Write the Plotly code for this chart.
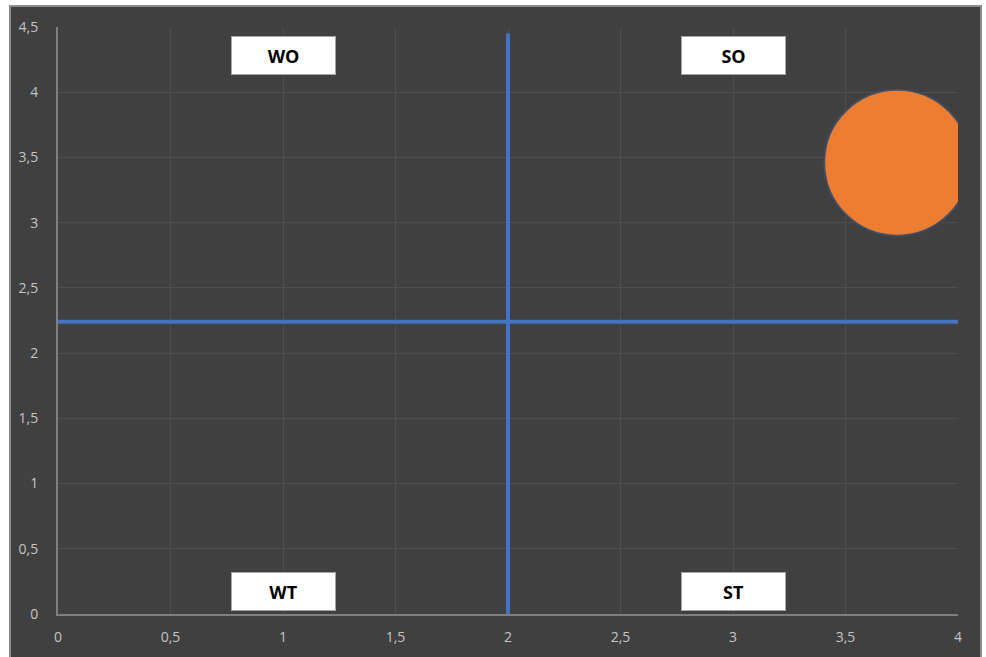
import plotly.graph_objects as go

# Quadrant divider lines
v_line_x = [2, 2]
v_line_y = [0, 4.45]
h_line_x = [0, 4]
h_line_y = [2.24, 2.24]

# Bubble
bubble_x = [3.73]
bubble_y = [3.46]
bubble_diameter_px = 146

# Quadrant labels
quadrant_labels = ["WO", "SO", "WT", "ST"]
label_x = [1.0, 3.0, 1.0, 3.0]
label_y = [4.28, 4.28, 0.17, 0.17]

x_ticks = [0, 0.5, 1, 1.5, 2, 2.5, 3, 3.5, 4]
y_ticks = [0, 0.5, 1, 1.5, 2, 2.5, 3, 3.5, 4, 4.5]

BG = "#404040"
BLUE = "#4472C4"
ORANGE = "#ED7D31"
TICK = "#C4C4C4"
GRID = "#4E4E4E"
AXIS = "#7F7F7F"

fig = go.Figure()

fig.add_trace(go.Scatter(x=v_line_x, y=v_line_y, mode="lines",
                         line=dict(color=BLUE, width=4), hoverinfo="skip",
                         showlegend=False))
fig.add_trace(go.Scatter(x=h_line_x, y=h_line_y, mode="lines",
                         line=dict(color=BLUE, width=4), hoverinfo="skip",
                         showlegend=False))
fig.add_trace(go.Scatter(x=bubble_x, y=bubble_y, mode="markers",
                         marker=dict(size=bubble_diameter_px, color=ORANGE,
                                     line=dict(color="rgba(60,78,105,0.9)", width=2)),
                         cliponaxis=True, showlegend=False))

for txt, lx, ly in zip(quadrant_labels, label_x, label_y):
    fig.add_annotation(x=lx, y=ly, xref="x", yref="y", text=f"<b>{txt}</b>",
                       showarrow=False, width=99, height=33,
                       bgcolor="white", bordercolor="#A6A6A6", borderwidth=1,
                       borderpad=2,
                       font=dict(family="Open Sans, Liberation Sans, sans-serif",
                                 size=18, color="#000000"))

L, R, T, B = 58, 28, 27, 43
W, H = 986, 657
pw, ph = W - L - R, H - T - B

# Chart frame around the whole drawing area
fig.add_shape(type="rect", xref="paper", yref="paper", layer="below",
              x0=(10 - L) / pw, x1=(981 - L) / pw,
              y0=-(H + 2 - T - ph) / ph, y1=(T + ph - 6) / ph,
              fillcolor=BG, line=dict(color="#8C8C8C", width=2))

axis_font = dict(family="Open Sans, Liberation Sans, sans-serif", size=14, color=TICK)

fig.update_xaxes(range=[0, 4], tickvals=x_ticks, showgrid=True, gridcolor=GRID,
                 gridwidth=1, zeroline=False, showline=True, linecolor=AXIS,
                 linewidth=2, ticks="", tickfont=axis_font, ticklabelstandoff=9,
                 fixedrange=True)
fig.update_yaxes(range=[0, 4.5], tickvals=y_ticks, showgrid=True, gridcolor=GRID,
                 gridwidth=1, zeroline=False, showline=True, linecolor=AXIS,
                 linewidth=2, ticks="", tickfont=axis_font, ticklabelstandoff=15,
                 fixedrange=True)

fig.update_layout(width=W, height=H, margin=dict(l=L, r=R, t=T, b=B),
                  paper_bgcolor="white", plot_bgcolor=BG, separators=",.",
                  showlegend=False)

fig.write_html("out.html")
